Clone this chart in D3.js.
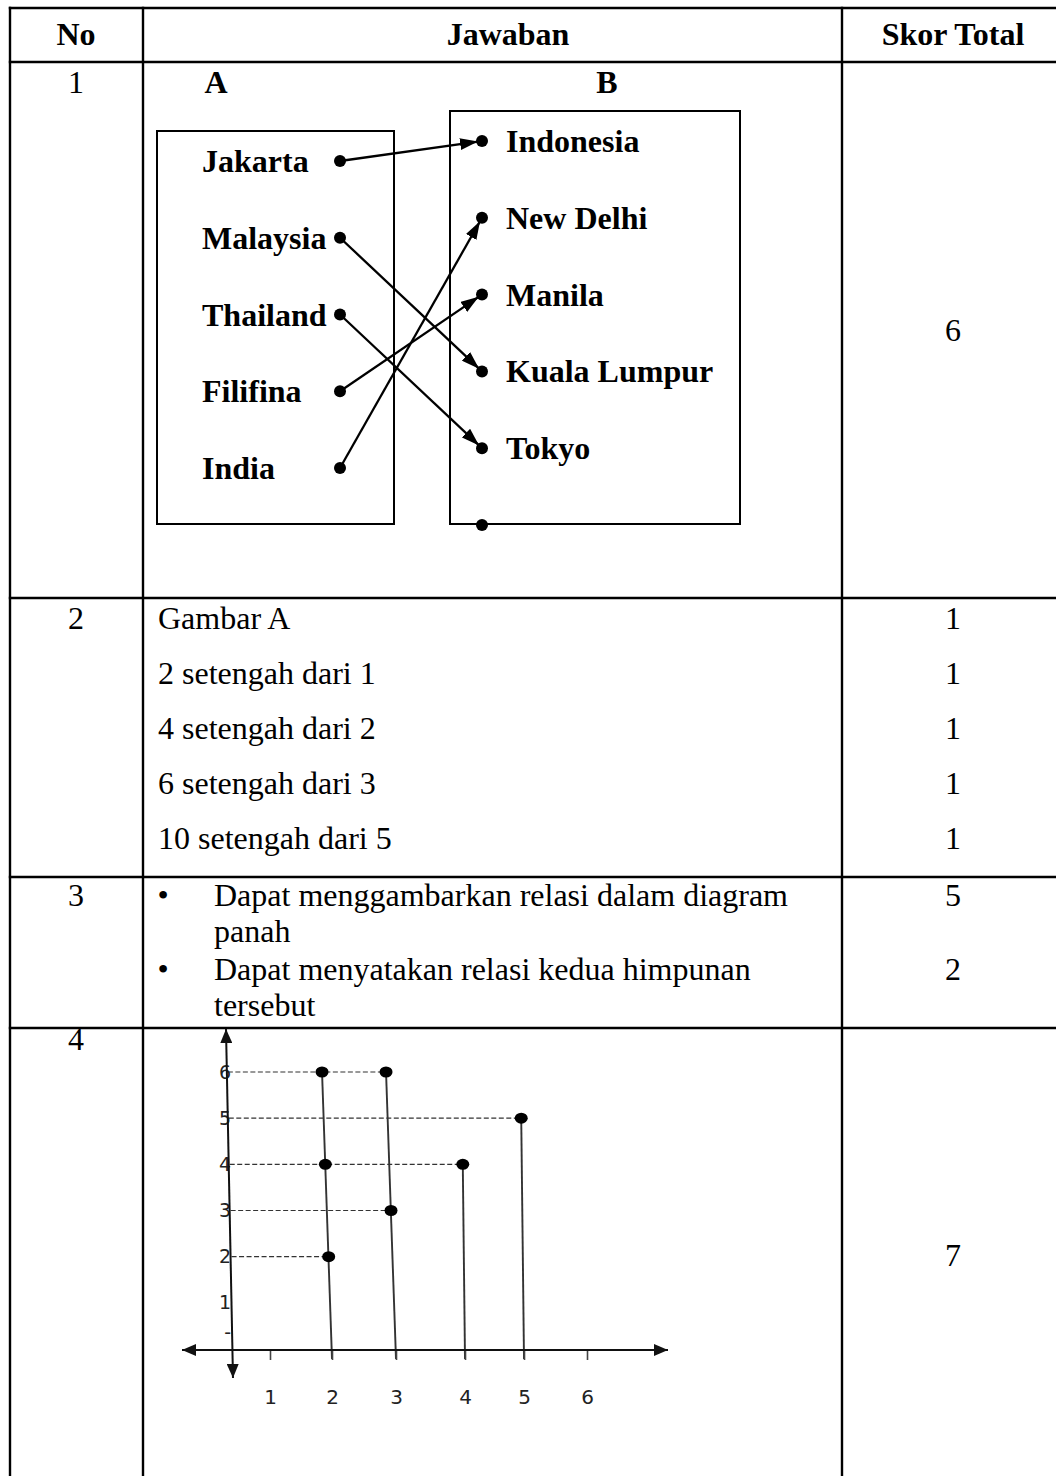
<!DOCTYPE html>
<html><head><meta charset="utf-8">
<script src="https://cdn.jsdelivr.net/npm/d3@7"></script>
<style>body{margin:0;background:#fff}svg{display:block}</style>
</head><body>
<script>
// ---------- data ----------
const headers = ["No", "Jawaban", "Skor Total"];
const rowNumbers = ["1", "2", "3", "4"];
const setTitles = ["A", "B"];
const setA = ["Jakarta", "Malaysia", "Thailand", "Filifina", "India"];
const setB = ["Indonesia", "New Delhi", "Manila", "Kuala Lumpur", "Tokyo", ""];
const relation = [["Jakarta","Indonesia"],["Malaysia","Kuala Lumpur"],["Thailand","Tokyo"],["Filifina","Manila"],["India","New Delhi"]];
const score1 = ["6"];
const row2Lines = ["Gambar A", "2 setengah dari 1", "4 setengah dari 2", "6 setengah dari 3", "10 setengah dari 5"];
const row2Scores = ["1", "1", "1", "1", "1"];
const row3Items = [["Dapat menggambarkan relasi dalam diagram", "panah"], ["Dapat menyatakan relasi kedua himpunan", "tersebut"]];
const row3Scores = ["5", "2"];
const score4 = ["7"];
const xTicks = [1, 2, 3, 4, 5, 6];
const yTickValues = [0.37, 1, 2, 3, 4, 5, 6];
const yTickLabels = ["-", "1", "2", "3", "4", "5", "6"];
const pairX = [2, 3, 5, 2, 4, 3, 2];
const pairY = [6, 6, 5, 4, 4, 3, 2];

// ---------- setup ----------
const W = 1056, H = 1476;
const serif = '"Liberation Serif","Times New Roman",Times,serif';
const sans = '"DejaVu Sans",Verdana,sans-serif';
const svg = d3.select("body").append("svg").attr("width", W).attr("height", H);

const defs = svg.append("defs");
defs.append("marker").attr("id", "arr").attr("viewBox", "0 0 18 12")
  .attr("refX", 18).attr("refY", 6).attr("markerUnits", "userSpaceOnUse")
  .attr("markerWidth", 18).attr("markerHeight", 12).attr("orient", "auto")
  .append("path").attr("d", "M0,0L18,6L0,12Z").attr("fill", "#000");
defs.append("marker").attr("id", "axarr").attr("viewBox", "0 0 14 12")
  .attr("refX", 14).attr("refY", 6).attr("markerUnits", "userSpaceOnUse")
  .attr("markerWidth", 14).attr("markerHeight", 12).attr("orient", "auto-start-reverse")
  .append("path").attr("d", "M0,0L14,6L0,12Z").attr("fill", "#111");

// ---------- table grid ----------
const colX = [10, 143, 842];
const rowY = [8, 62, 598, 877, 1028];
const grid = svg.append("g").attr("stroke", "#000").attr("stroke-width", 2.4);
rowY.forEach(y => grid.append("line").attr("x1", colX[0] - 1.2).attr("x2", W).attr("y1", y).attr("y2", y));
colX.forEach(x => grid.append("line").attr("x1", x).attr("x2", x).attr("y1", rowY[0] - 1.2).attr("y2", H));

function txt(x, y, s, opts = {}) {
  return svg.append("text").attr("x", x).attr("y", y)
    .attr("font-family", opts.family || serif).attr("font-size", opts.size || 32)
    .attr("font-weight", opts.bold ? "bold" : "normal")
    .attr("text-anchor", opts.anchor || "start").attr("fill", opts.fill || "#000").text(s);
}

// header
const headerX = [76, 508, 953];
headers.forEach((h, i) => txt(headerX[i], 45, h, {bold: true, anchor: "middle"}));

// row numbers
const numBase = [93, 629, 906, 1050];
rowNumbers.forEach((n, i) => txt(76, numBase[i], n, {anchor: "middle"}));

// ---------- row 1 : arrow diagram ----------
txt(216, 93, setTitles[0], {bold: true, anchor: "middle"});
txt(607, 93, setTitles[1], {bold: true, anchor: "middle"});
svg.append("rect").attr("x", 157).attr("y", 131).attr("width", 237).attr("height", 393)
  .attr("fill", "none").attr("stroke", "#000").attr("stroke-width", 2);
svg.append("rect").attr("x", 450).attr("y", 111).attr("width", 290).attr("height", 413)
  .attr("fill", "none").attr("stroke", "#000").attr("stroke-width", 2);

const yA = d3.scalePoint().domain(setA).range([161, 468]);
const yB = d3.scalePoint().domain(setB).range([141, 525]);
const xDotA = 340, xDotB = 482;

setA.forEach(a => txt(202, yA(a) + 11, a, {bold: true}));
setB.filter(b => b).forEach(b => txt(506, yB(b) + 11, b, {bold: true}));

relation.forEach(([a, b]) => {
  const x1 = xDotA, y1 = yA(a), x2 = xDotB, y2 = yB(b);
  const L = Math.hypot(x2 - x1, y2 - y1), ux = (x2 - x1) / L, uy = (y2 - y1) / L;
  svg.append("line").attr("x1", x1).attr("y1", y1).attr("x2", x2 - ux * 4).attr("y2", y2 - uy * 4)
    .attr("stroke", "#000").attr("stroke-width", 2.3).attr("marker-end", "url(#arr)");
});
svg.selectAll(".dotA").data(setA).join("ellipse").attr("cx", xDotA).attr("cy", d => yA(d))
  .attr("rx", 6).attr("ry", 6).attr("fill", "#000");
svg.selectAll(".dotB").data(setB).join("ellipse").attr("cx", xDotB).attr("cy", d => yB(d))
  .attr("rx", 6).attr("ry", 6).attr("fill", "#000");

txt(953, 341, score1[0], {anchor: "middle"});

// ---------- row 2 ----------
const y2 = d3.scalePoint().domain(d3.range(row2Lines.length)).range([629, 849]);
row2Lines.forEach((s, i) => txt(158, y2(i), s));
row2Scores.forEach((s, i) => txt(953, y2(i), s, {anchor: "middle"}));

// ---------- row 3 ----------
const y3 = [906, 942, 980, 1016];
row3Items.forEach((item, i) => {
  txt(163, y3[i * 2], "\u2022", {anchor: "middle"});
  txt(214, y3[i * 2], item[0]);
  txt(214, y3[i * 2 + 1], item[1]);
  txt(953, y3[i * 2], row3Scores[i], {anchor: "middle"});
});

// ---------- row 4 : cartesian chart ----------
txt(953, 1266, score4[0], {anchor: "middle"});

const xS = d3.scaleLinear().domain(xTicks).range([270, 332, 396, 465, 524, 587]);
const yS = d3.scaleLinear().domain([0, 6]).range([1349, 1072]);
const axisYpos = yS(0) + 1;
const yTop = yS(6) - 43, yBot = axisYpos + 28;
const axisXat = y => 226 + (y - yTop) * (7 / (yBot - yTop));
const tilt = x => (x <= 3 ? 0.036 : 0.012);
const dotX = (x, v) => xS(x) - tilt(x) * (yS(0) - yS(v));

const pts = pairX.map((x, i) => ({x, v: pairY[i]}));
const chart = svg.append("g");

// dashed guides
d3.groups(pts, d => d.v).forEach(([v, arr]) => {
  const xr = d3.max(arr, d => dotX(d.x, d.v));
  chart.append("line").attr("x1", axisXat(yS(v)) + 1).attr("x2", xr).attr("y1", yS(v)).attr("y2", yS(v))
    .attr("stroke", "#333").attr("stroke-width", 1.2).attr("stroke-dasharray", "5,2.5");
});
// stems
d3.groups(pts, d => d.x).forEach(([x, arr]) => {
  const vm = d3.max(arr, d => d.v);
  chart.append("line").attr("x1", dotX(x, vm)).attr("y1", yS(vm)).attr("x2", xS(x)).attr("y2", axisYpos + 9)
    .attr("stroke", "#333").attr("stroke-width", 1.9);
});

// x axis (ticks + labels)
const gx = chart.append("g").attr("transform", `translate(0,${axisYpos})`)
  .call(d3.axisBottom(xS).tickValues(xTicks).tickSize(10).tickPadding(30).tickFormat(d3.format("d")));
gx.select(".domain").remove();
gx.selectAll("line").attr("stroke", "#444").attr("stroke-width", 1.6);
gx.selectAll("text").style("font-family", sans).style("font-size", "20px").attr("fill", "#222");

// y axis labels
const gy = chart.append("g").attr("transform", "translate(231,0)")
  .call(d3.axisLeft(yS).tickValues(yTickValues).tickSize(0).tickPadding(0).tickFormat((d, i) => yTickLabels[i]));
gy.select(".domain").remove();
gy.selectAll("text").style("font-family", sans).style("font-size", "19px").attr("fill", "#222");

// axis lines with arrows
chart.append("line").attr("x1", xS(1) - 88).attr("x2", xS(6) + 81).attr("y1", axisYpos).attr("y2", axisYpos)
  .attr("stroke", "#111").attr("stroke-width", 2)
  .attr("marker-start", "url(#axarr)").attr("marker-end", "url(#axarr)");
chart.append("line").attr("x1", axisXat(yTop)).attr("y1", yTop).attr("x2", axisXat(yBot)).attr("y2", yBot)
  .attr("stroke", "#111").attr("stroke-width", 2)
  .attr("marker-start", "url(#axarr)").attr("marker-end", "url(#axarr)");

// points
chart.selectAll(".pt").data(pts).join("ellipse")
  .attr("cx", d => dotX(d.x, d.v)).attr("cy", d => yS(d.v))
  .attr("rx", 6.5).attr("ry", 5.5).attr("fill", "#000");
</script>
</body></html>
